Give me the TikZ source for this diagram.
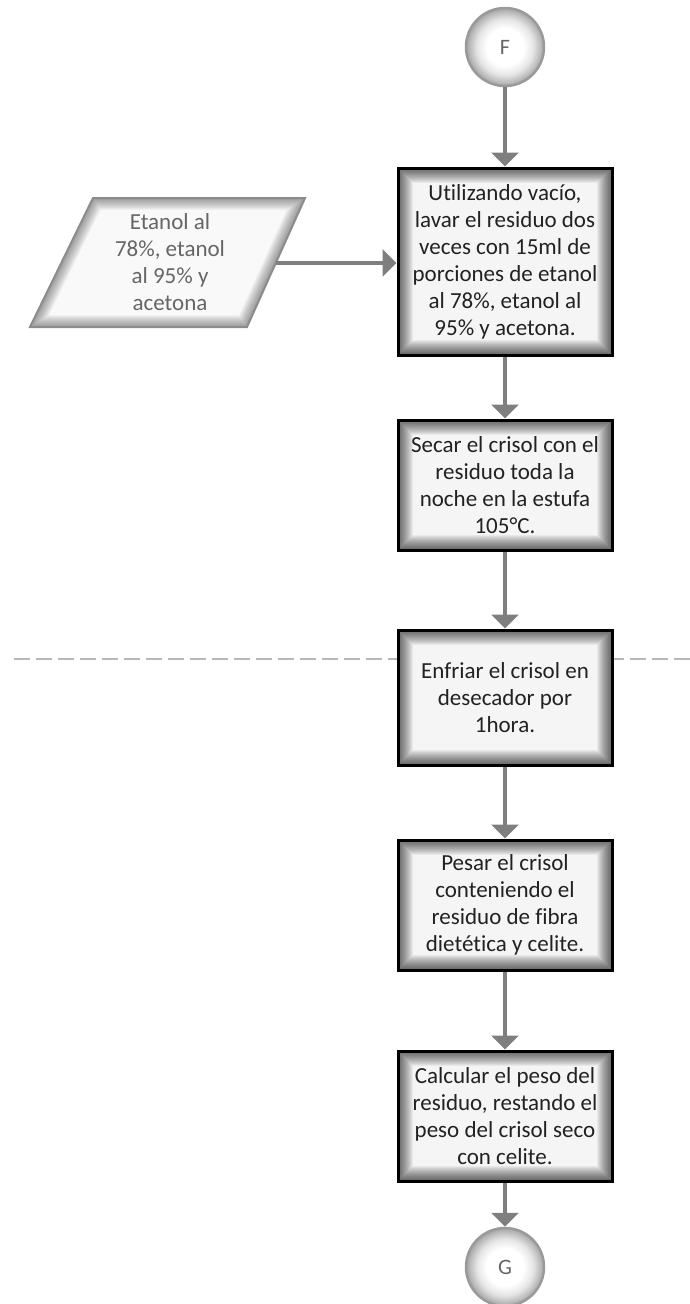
\documentclass[tikz,border=0pt]{standalone}
\usepackage{fontspec}
\setmainfont{Carlito}[Ligatures={NoCommon}]
\usetikzlibrary{arrows.meta}

\definecolor{flowgray}{HTML}{7F7F7F}
\definecolor{ringgray}{HTML}{9A9A9A}
\definecolor{inputtext}{HTML}{666666}
\definecolor{boxtext}{HTML}{222222}
\definecolor{fillgray}{HTML}{F5F5F5}

% white centre fading to grey only close to the rim
\pgfdeclareradialshading{rimglow}{\pgfpoint{0bp}{0bp}}{%
  color(0bp)=(white); color(12bp)=(white); color(18bp)=(black!10);
  color(22.5bp)=(black!26); color(25bp)=(black!36); color(50bp)=(black!36)}

\tikzset{
  % process box: black frame with a soft dark glow along the inside of the edges
  procbox/.style={
    rectangle, draw=black, line width=3pt, fill=fillgray,
    minimum width=214pt, minimum height=#1, inner sep=0pt,
    align=center, text=boxtext, font=\fontsize{23}{27}\selectfont,
    path picture={
      \foreach \w in {30,28,...,2}{
        \draw[line width=\w pt, black, opacity=0.05]
          (path picture bounding box.south west) rectangle
          (path picture bounding box.north east);
      }
    }
  },
  connector/.style={
    circle, draw=ringgray, line width=2.5pt, minimum size=78pt, inner sep=0pt,
    shading=rimglow,
    text=inputtext, font=\fontsize{22}{24}\selectfont
  },
  flow/.style={draw=flowgray, line width=4pt,
    -{Triangle[width=27pt,length=14pt]}},
  guide/.style={draw=black!28, line width=1.5pt, dash pattern=on 16pt off 6pt}
}

\begin{document}
\begin{tikzpicture}[x=1pt, y=-1pt]
\useasboundingbox (0,0) rectangle (690,1304);

% horizontal guide line behind the boxes
\coordinate (gl) at (14,659);
\coordinate (gr) at (690,659);
\draw[guide] (gl) -- (gr);

% off-page connectors
\node[connector] (F) at (505,47) {F};
\node[connector] (G) at (505,1267) {G};

% process steps
\node[procbox=187pt] (b1) at (505,261.5) {Utilizando vacío,\\lavar el residuo dos\\veces con 15ml de\\porciones de etanol\\al 78\%, etanol al\\95\% y acetona.};
\node[procbox=130pt] (b2) at (505,485) {Secar el crisol con el\\residuo toda la\\noche en la estufa\\105°C.};
\node[procbox=135pt] (b3) at (505,697.5) {Enfriar el crisol en\\desecador por\\1hora.};
\node[procbox=130pt] (b4) at (505,905) {Pesar el crisol\\conteniendo el\\residuo de fibra\\dietética y celite.};
\node[procbox=130pt] (b5) at (505,1116) {Calcular el peso del\\residuo, restando el\\peso del crisol seco\\con celite.};

% input parallelogram
\coordinate (p1) at (93,198);
\coordinate (p2) at (305,198);
\coordinate (p3) at (247,327);
\coordinate (p4) at (30,327);
\fill[fillgray!60!white] (p1) -- (p2) -- (p3) -- (p4) -- cycle;
\begin{scope}
  \clip (p1) -- (p2) -- (p3) -- (p4) -- cycle;
  \foreach \w in {24,22,...,2}{
    \draw[line width=\w pt, black, opacity=0.035, line join=miter]
      (p1) -- (p2) -- (p3) -- (p4) -- cycle;
  }
\end{scope}
\draw[draw=black!45, line width=2pt, line join=miter] (p1) -- (p2) -- (p3) -- (p4) -- cycle;
\node[align=center, text=inputtext, font=\fontsize{23}{27}\selectfont] (ent) at (170,262) {Etanol al\\78\%, etanol\\al 95\% y\\acetona};
\coordinate (pr) at (276,263);

% connectors
\draw[flow] (F) -- (b1);
\draw[flow] (pr) -- (pr -| b1.west);
\draw[flow] (b1) -- (b2);
\draw[flow] (b2) -- (b3);
\draw[flow] (b3) -- (b4);
\draw[flow] (b4) -- (b5);
\draw[flow] (b5) -- (G);
\end{tikzpicture}
\end{document}
